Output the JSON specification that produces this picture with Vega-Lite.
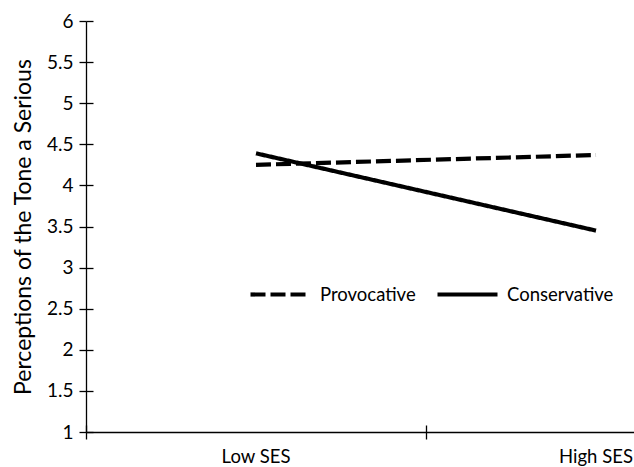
{
  "$schema": "https://vega.github.io/schema/vega-lite/v6.json",
  "width": 548,
  "height": 411,
  "autosize": {"type": "none"},
  "padding": {"left": 86, "top": 21, "right": 0, "bottom": 35},
  "background": "white",
  "config": {
    "view": {"stroke": null},
    "font": "Lato",
    "axis": {"grid": false, "domainColor": "#000", "tickColor": "#000", "labelColor": "#000", "titleColor": "#000", "domainWidth": 1.3, "tickWidth": 1.3}
  },
  "data": {
    "values": [
      {"ses": "Low SES", "tone": "Provocative", "value": 4.25},
      {"ses": "High SES", "tone": "Provocative", "value": 4.37},
      {"ses": "Low SES", "tone": "Conservative", "value": 4.39},
      {"ses": "High SES", "tone": "Conservative", "value": 3.45}
    ]
  },
  "layer": [
    {
      "mark": {"type": "line", "color": "#000", "strokeWidth": 4.2, "strokeCap": "butt"},
      "encoding": {
        "x": {
          "field": "ses", "type": "nominal", "sort": ["Low SES", "High SES"], "bandPosition": 0.5,
          "scale": {"type": "band", "domain": ["Low SES", "High SES"], "paddingInner": 0, "paddingOuter": 0, "range": [0, 680]},
          "axis": {"title": null, "orient": "bottom", "bandPosition": 0, "tickSize": 7, "labelAngle": 0, "labelFontSize": 18.5, "labelPadding": 8}
        },
        "y": {
          "field": "value", "type": "quantitative",
          "scale": {"domain": [1, 6], "nice": false, "zero": false},
          "axis": {"title": "Perceptions of the Tone a Serious", "orient": "left", "values": [1, 1.5, 2, 2.5, 3, 3.5, 4, 4.5, 5, 5.5, 6], "format": "~g", "tickSize": 7, "labelFontSize": 19, "labelPadding": 6, "titleFontSize": 23, "titleFontWeight": "normal", "titlePadding": 11}
        },
        "strokeDash": {
          "field": "tone", "type": "nominal",
          "scale": {"domain": ["Provocative", "Conservative"], "range": [[15, 5], [1, 0]]},
          "legend": {"title": null, "orient": "none", "legendX": 162, "legendY": 241, "direction": "horizontal", "symbolType": "stroke", "symbolSize": 3600, "symbolStrokeWidth": 4.2, "symbolStrokeColor": "#000", "labelFontSize": 18.5, "labelOffset": 7, "columnPadding": 13, "labelColor": "#000", "padding": 0}
        }
      }
    },
    {
      "mark": {"type": "line", "opacity": 0},
      "encoding": {
        "x": {
          "field": "ses", "type": "nominal", "sort": ["Low SES", "High SES"],
          "axis": {"title": null, "orient": "bottom", "bandPosition": 0, "tickSize": -7, "labels": false, "domain": false}
        },
        "y": {
          "field": "value", "type": "quantitative",
          "axis": {"title": null, "orient": "left", "values": [1, 1.5, 2, 2.5, 3, 3.5, 4, 4.5, 5, 5.5, 6], "tickSize": -7, "labels": false, "domain": false}
        },
        "detail": {"field": "tone", "type": "nominal"}
      }
    }
  ],
  "resolve": {"axis": {"x": "independent", "y": "independent"}}
}
